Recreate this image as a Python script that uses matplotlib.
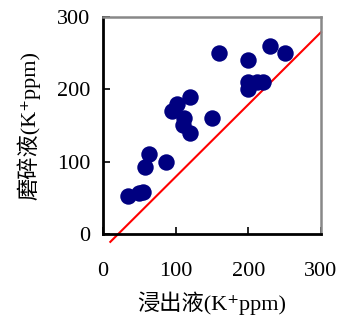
import matplotlib
matplotlib.use("Agg")
import matplotlib.pyplot as plt
import numpy as np

x_vals = [35, 55, 50, 58, 63, 87, 95, 102, 112, 110, 120, 120, 150, 160, 200, 200, 200, 212, 220, 230, 250]
y_vals = [52, 58, 57, 93, 110, 100, 170, 180, 160, 150, 140, 190, 160, 250, 240, 200, 210, 210, 210, 260, 250]
line_x = [10, 300]
line_y = [-11, 279]
ticks = [0, 100, 200, 300]

fam = ['Liberation Serif', 'Noto Sans CJK SC', 'DejaVu Serif']
fig = plt.figure(figsize=(3.39, 3.2), dpi=100)
ax = fig.add_axes([0.304, 0.269, 0.643, 0.678])
ax.scatter(x_vals, y_vals, s=140, color='#000080', zorder=3, linewidths=0)
ax.plot(line_x, line_y, color='#ff0000', lw=1.5, clip_on=False, zorder=2)
ax.set_xlim(0, 300)
ax.set_ylim(0, 300)
ax.set_xticks(ticks)
ax.set_yticks(ticks)
ax.set_xticklabels([str(t) for t in ticks], family=fam, fontsize=16)
ax.set_yticklabels([str(t) for t in ticks], family=fam, fontsize=16)
ax.tick_params(axis='x', direction='in', length=5, width=1.2, pad=20)
ax.tick_params(axis='y', direction='in', length=5, width=1.2, pad=9)
for s in ['left', 'bottom']:
    ax.spines[s].set_linewidth(2)
    ax.spines[s].set_color('black')
for s in ['top', 'right']:
    ax.spines[s].set_linewidth(1.8)
    ax.spines[s].set_color('#888888')
ax.set_xlabel('浸出液(K⁺ppm)', family=fam, fontsize=16, labelpad=8)
ax.set_ylabel('磨碎液(K⁺ppm)', family=fam, fontsize=16, labelpad=12)
fig.savefig('out.png', dpi=100)
